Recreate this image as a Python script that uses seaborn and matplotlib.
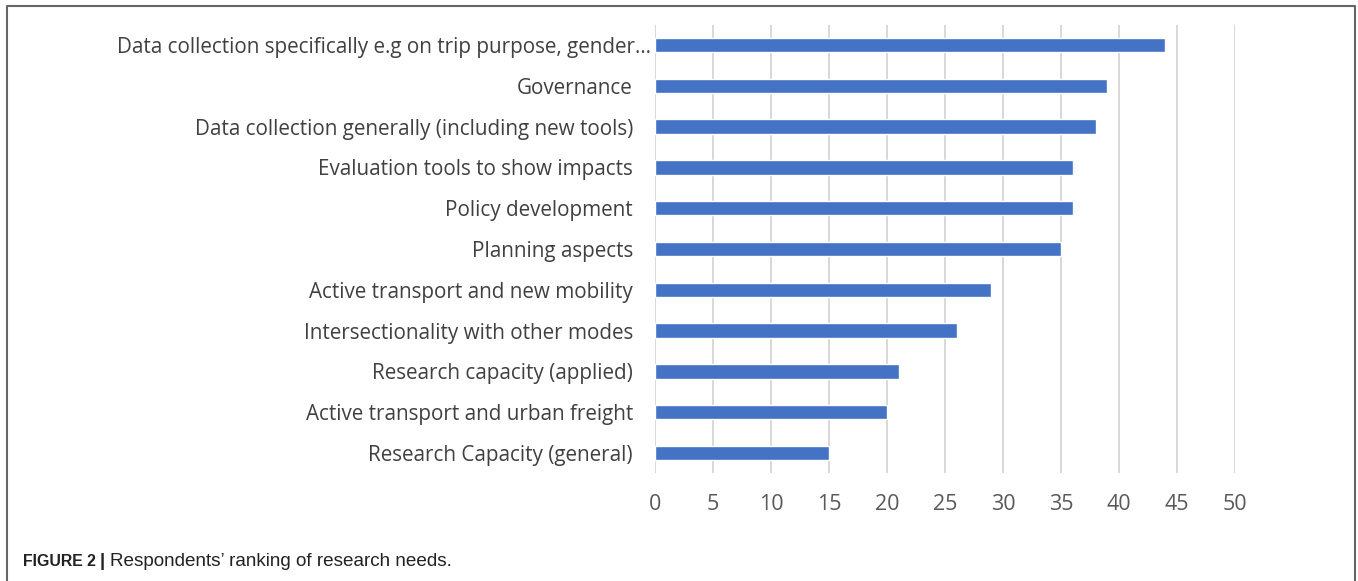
import matplotlib
matplotlib.use("Agg")
import matplotlib.pyplot as plt
import matplotlib.transforms as mtransforms
import seaborn as sns
import pandas as pd

categories = [
    "Data collection specifically e.g on trip purpose, gender\u2026",
    "Governance",
    "Data collection generally (including new tools)",
    "Evaluation tools to show impacts",
    "Policy development",
    "Planning aspects",
    "Active transport and new mobility",
    "Intersectionality with other modes",
    "Research capacity (applied)",
    "Active transport and urban freight",
    "Research Capacity (general)",
]
values = [44, 39, 38, 36, 36, 35, 29, 26, 21, 20, 15]
xticks = [0, 5, 10, 15, 20, 25, 30, 35, 40, 45, 50]

df = pd.DataFrame({"category": categories, "value": values})

sns.set_theme(style="white")
plt.rcParams["font.family"] = ["Open Sans", "DejaVu Sans"]

W, H = 1358, 581
fig = plt.figure(figsize=(W / 100, H / 100), dpi=100)
ax = fig.add_axes([655 / W, 1 - 473.4 / H, 580 / W, (473.4 - 24.6) / H])

sns.barplot(data=df, x="value", y="category", orient="h", color="#4472C4",
            saturation=1, width=0.35, ax=ax, zorder=3)

ax.set_xlim(0, 50)
ax.set_ylim(10.5, -0.5)
ax.set_xticks(xticks)
ax.set_xticklabels([str(t) for t in xticks])
ax.set_xlabel("")
ax.set_ylabel("")
for t in xticks:
    ax.axvline(t, color="#D9D9D9", lw=1.44, zorder=1, snap=True)
for s in ax.spines.values():
    s.set_visible(False)
ax.tick_params(axis="x", length=0, pad=15, labelsize=15.5, labelcolor="#595959")
ax.tick_params(axis="y", length=0, pad=16, labelsize=14.85, labelcolor="#404040")

# the truncated first label sits a little further right, as in the source
lbl = ax.get_yticklabels()[0]
lbl.set_transform(lbl.get_transform() + mtransforms.ScaledTranslation(18 / 100, 0, fig.dpi_scale_trans))

# outer border (top, left, right)
fig.add_artist(plt.Line2D([7 / W, 7 / W, 1355 / W, 1355 / W],
                          [0, 1 - 6 / H, 1 - 6 / H, 0],
                          transform=fig.transFigure, color="#666666", lw=1.5))

cap_font = ["Liberation Sans", "DejaVu Sans"]
fig.text(23 / W, 1 - 562 / H, "FIGURE 2", fontsize=11.4, fontweight="bold",
         family=cap_font, color="#222222", va="center")
fig.text(100 / W, 1 - 562 / H, "|", fontsize=13.5, fontweight="bold",
         family=cap_font, color="#222222", va="center")
fig.text(110 / W, 1 - 562 / H, "Respondents\u2019 ranking of research needs.", fontsize=13.6,
         family=cap_font, color="#222222", va="center")

fig.savefig("out.png", dpi=100)
